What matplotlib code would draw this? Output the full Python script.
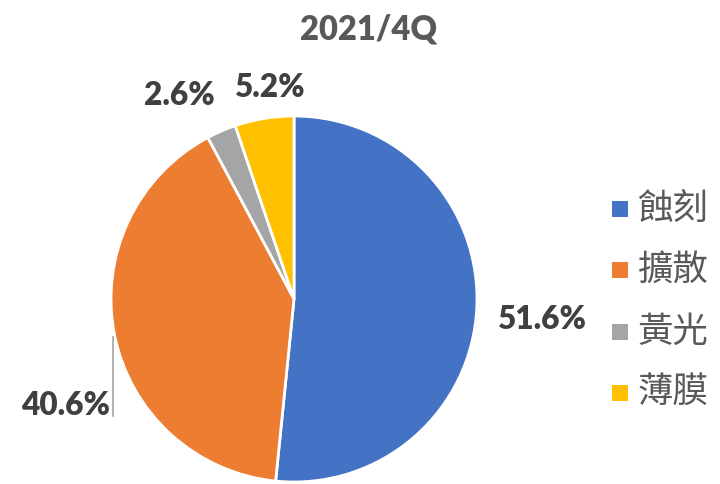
import matplotlib
matplotlib.use("Agg")
import matplotlib.pyplot as plt
import numpy as np
from matplotlib.patches import Rectangle

title = "2021/4Q"
categories = ["蝕刻", "擴散", "黃光", "薄膜"]
values = [51.6, 40.6, 2.6, 5.2]
labels = ["51.6%", "40.6%", "2.6%", "5.2%"]
colors = ["#4472C4", "#ED7D31", "#A5A5A5", "#FFC000"]

W, H = 720, 485
fig = plt.figure(figsize=(W / 100, H / 100), dpi=100)

cx, cy, r = 294, 300, 183
ax = fig.add_axes([(cx - r) / W, (H - cy - r) / H, 2 * r / W, 2 * r / H])
wedges, _ = ax.pie(values, colors=colors, startangle=90, counterclock=False,
                   radius=1.0, wedgeprops=dict(edgecolor="white", linewidth=2))
ax.set_xlim(-1, 1)
ax.set_ylim(-1, 1)
ax.set_aspect("equal")
ax.axis("off")

label_font = dict(family=["Lato", "DejaVu Sans"], weight="heavy", size=22.7, color="#404040")
# label placement: (distance, angle offset, ha)
place = [(1.36, -1.5, "center"), (None, None, "right"), (1.28, 6.0, "center"), (1.17, -3.0, "center")]
for w, lab, (d, off, ha) in zip(wedges, labels, place):
    mid = np.deg2rad((w.theta1 + w.theta2) / 2 + (off or 0))
    if d is None:
        ax.text(-1.005, -0.574, lab, ha="right", va="center", clip_on=False, **label_font)
        ax.plot([-0.99, -0.99], [-0.205, -0.64], color="#A6A6A6", lw=1.2, clip_on=False)
    else:
        ax.text(d * np.cos(mid), d * np.sin(mid), lab, ha=ha, va="center",
                clip_on=False, **label_font)

fig.text(369 / W, 1 - 30 / H, title, ha="center", va="center",
         family=["Lato", "DejaVu Sans"], weight="heavy", size=23.5, color="#595959")

# legend
leg_y0, leg_dy = 210, 61.3
for i, (c, name) in enumerate(zip(colors, categories)):
    y = leg_y0 + i * leg_dy
    fig.patches.append(Rectangle((612 / W, 1 - (y + 8) / H), 16 / W, 16 / H,
                                 transform=fig.transFigure, facecolor=c, edgecolor="none"))
    fig.text(638 / W, 1 - (y - 1) / H, name, ha="left", va="center",
             family=["Noto Sans CJK TC", "DejaVu Sans"], size=25.5, color="#595959")

fig.savefig("out.png", dpi=100)
